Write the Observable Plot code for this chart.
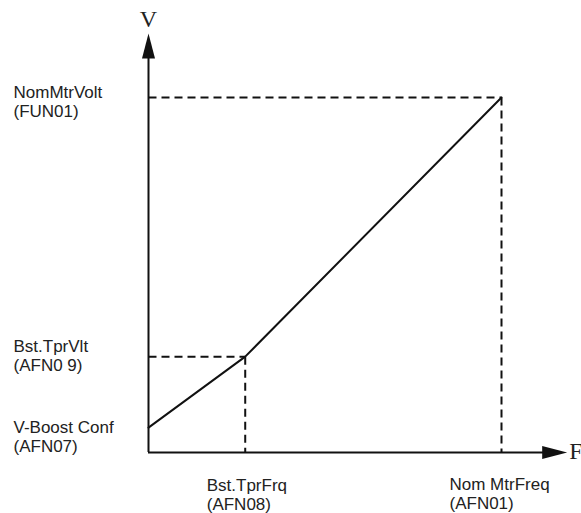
<!DOCTYPE html>
<html>
<head>
<meta charset="utf-8">
<script src="https://cdn.jsdelivr.net/npm/d3@7"></script>
<script src="https://cdn.jsdelivr.net/npm/@observablehq/plot@0.6"></script>
<style>
  html, body { margin: 0; padding: 0; background: #fff; }
  #chart { width: 581px; height: 513px; }
</style>
</head>
<body>
<div id="chart"></div>
<script>
// ---- data (frequency in Hz-like units, voltage in % of nominal) ----
const freqPoints = [0, 13.7, 50];           // V-boost start, taper freq, nominal freq
const voltPoints = [7, 27, 100];            // V-boost, taper voltage, nominal voltage
const axisEnds = {f: 59.3, v: 118};         // where the axis arrows end
const voltLabels = ["NomMtrVolt\n(FUN01)", "Bst.TprVlt\n(AFN0 9)", "V-Boost Conf\n(AFN07)"];
const voltLabelValues = [100, 27, 7];
const freqLabels = ["Bst.TprFrq\n(AFN08)", "Nom MtrFreq\n(AFN01)"];
const freqLabelValues = [13.7, 50];
const axisNames = {v: "V", f: "F"};

// ---- derived tables ----
const curve = freqPoints.map((f, i) => ({f, v: voltPoints[i]}));
const knee = curve[1], nom = curve[2];
const guides = [
  {f1: 0, v1: nom.v, f2: nom.f, v2: nom.v},
  {f1: nom.f, v1: nom.v, f2: nom.f, v2: 0},
  {f1: 0, v1: knee.v, f2: knee.f, v2: knee.v},
  {f1: knee.f, v1: knee.v, f2: knee.f, v2: 0}
];

const ink = "#111";
const arrowUp = {draw(ctx) { ctx.moveTo(0, 0); ctx.lineTo(6.5, 25); ctx.lineTo(-6.5, 25); ctx.closePath(); }};
const arrowRight = {draw(ctx) { ctx.moveTo(0, 0); ctx.lineTo(-25, -6.5); ctx.lineTo(-25, 6.5); ctx.closePath(); }};

const sans = "'Liberation Sans', Arial, Helvetica, sans-serif";
const serif = "'Liberation Serif', 'Times New Roman', serif";
const labelStyle = {fontFamily: sans, fontSize: 17, lineHeight: 1.12, fill: "#222", textAnchor: "start"};

const chart = Plot.plot({
  width: 581,
  height: 513,
  marginLeft: 148,
  marginRight: 9.4,
  marginTop: 26,
  marginBottom: 61,
  x: {domain: [0, 60], axis: null},
  y: {domain: [0, 120], axis: null},
  style: {background: "#fff", overflow: "visible"},
  marks: [
    // axes
    Plot.ruleX([0], {y1: 0, y2: axisEnds.v - 4, stroke: ink, strokeWidth: 2}),
    Plot.ruleY([0], {x1: 0, x2: axisEnds.f - 1.5, stroke: ink, strokeWidth: 2}),
    Plot.dot([{f: 0, v: axisEnds.v}], {x: "f", y: "v", symbol: arrowUp, fill: ink, stroke: "none"}),
    Plot.dot([{f: axisEnds.f, v: 0}], {x: "f", y: "v", symbol: arrowRight, fill: ink, stroke: "none"}),
    // dashed guides
    Plot.link(guides, {x1: "f1", y1: "v1", x2: "f2", y2: "v2", stroke: ink, strokeWidth: 2, strokeDasharray: "8,5"}),
    // V/F curve
    Plot.line(curve, {x: "f", y: "v", stroke: ink, strokeWidth: 2}),
    // left labels
    Plot.text([0], {y: () => voltLabelValues[0], text: () => voltLabels[0], frameAnchor: "left", dx: -135, dy: 4.1, ...labelStyle}),
    Plot.text([1], {y: () => voltLabelValues[1], text: () => voltLabels[1], frameAnchor: "left", dx: -135, dy: -1.4, ...labelStyle}),
    Plot.text([2], {y: () => voltLabelValues[2], text: () => voltLabels[2], frameAnchor: "left", dx: -135, dy: 8.6, ...labelStyle}),
    // bottom labels
    Plot.text([0], {x: () => freqLabelValues[0], text: () => freqLabels[0], frameAnchor: "bottom", lineAnchor: "top", dx: -38.5, dy: 24.9, ...labelStyle}),
    Plot.text([1], {x: () => freqLabelValues[1], text: () => freqLabels[1], frameAnchor: "bottom", lineAnchor: "top", dx: -52, dy: 23.9, ...labelStyle}),
    // axis names
    Plot.text([{f: 0, v: axisEnds.v}], {x: "f", y: "v", text: () => axisNames.v, dy: -14.3, fontFamily: serif, fontSize: 24, fill: "#222"}),
    Plot.text([{f: axisEnds.f, v: 0}], {x: "f", y: "v", text: () => axisNames.f, dx: 2, dy: -1, textAnchor: "start", fontFamily: serif, fontSize: 24, fill: "#222"})
  ]
});
document.getElementById("chart").appendChild(chart);
</script>
</body>
</html>
